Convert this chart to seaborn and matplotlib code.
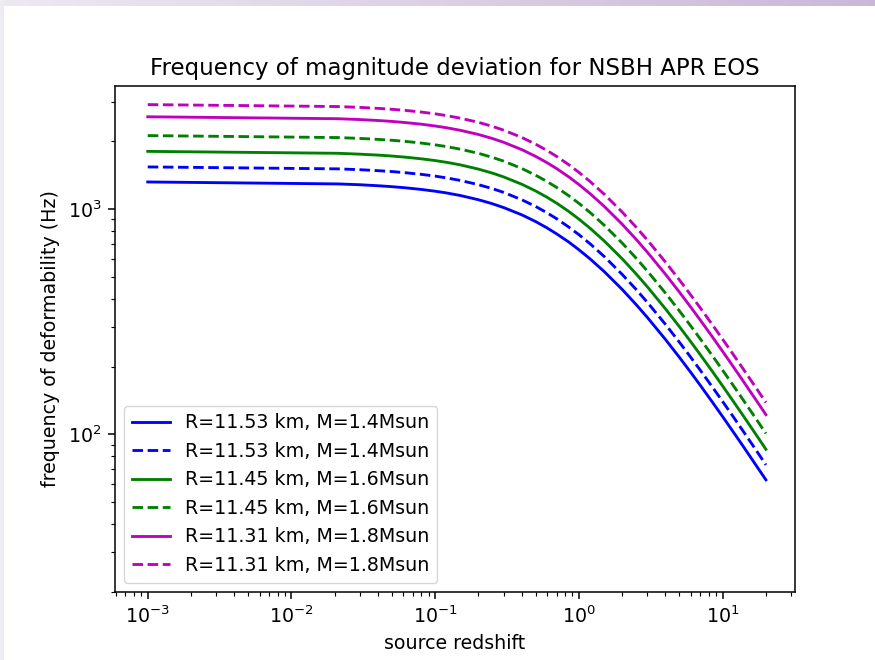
import numpy as np
import matplotlib
matplotlib.use("Agg")
import matplotlib.pyplot as plt
import seaborn as sns

# ---- data ----
redshift = [0.001, 0.021, 0.03, 0.041, 0.05, 0.061, 0.08, 0.1, 0.12, 0.15, 0.2, 0.25,
            0.3, 0.4, 0.5, 0.6, 0.7, 0.85, 1.0, 1.2, 1.5, 2.0, 2.5, 3.0, 4.0, 5.0,
            6.0, 7.0, 8.5, 10.0, 12.0, 14.0, 17.0, 20.0]

f_r1153_m14_solid = [1319, 1293, 1282, 1268, 1257, 1244, 1222, 1200, 1179, 1148, 1100, 1056,
                     1015, 943, 880, 825, 776, 714, 660, 600, 528, 440, 377, 330, 264, 220,
                     188.6, 165, 138.9, 120, 101.5, 88, 73.3, 62.9]
f_r1153_m14_dash = [1538, 1508, 1495, 1479, 1467, 1451, 1426, 1400, 1375, 1339, 1283, 1232,
                    1185, 1100, 1027, 962.5, 906, 832, 770, 700, 616, 513, 440, 385, 308, 256.7,
                    220, 192.5, 162.1, 140, 118.5, 102.7, 85.6, 73.3]
f_r1145_m16_solid = [1803, 1768, 1752, 1734, 1719, 1701, 1671, 1641, 1612, 1570, 1504, 1444,
                     1388, 1289, 1203, 1128, 1062, 976, 902.5, 820.5, 722, 601.7, 515.7, 451.3,
                     361, 300.8, 257.9, 225.6, 190, 164.1, 138.8, 120.3, 100.3, 85.95]
f_r1145_m16_dash = [2118, 2076, 2058, 2036, 2019, 1998, 1963, 1927, 1893, 1843, 1767, 1696,
                    1631, 1514, 1413, 1325, 1247, 1146, 1060, 963.6, 848, 706.7, 605.7, 530,
                    424, 353.3, 302.9, 265, 223.2, 192.7, 163.1, 141.3, 117.8, 101]
f_r1131_m18_solid = [2567, 2517, 2495, 2469, 2448, 2422, 2380, 2336, 2295, 2235, 2142, 2056,
                     1977, 1836, 1713, 1606, 1512, 1389, 1285, 1168.2, 1028, 856.7, 734.3,
                     642.5, 514, 428.3, 367.1, 321.3, 270.5, 233.6, 197.7, 171.3, 142.8, 122.4]
f_r1131_m18_dash = [2907, 2850, 2825, 2795, 2771, 2743, 2694, 2645, 2598, 2530, 2425, 2328,
                    2238, 2079, 1940, 1819, 1712, 1573, 1455, 1322.7, 1164, 970, 831.4, 727.5,
                    582, 485, 415.7, 363.8, 306.3, 264.5, 223.8, 194, 161.7, 138.6]

labels = ["R=11.53 km, M=1.4Msun", "R=11.53 km, M=1.4Msun",
          "R=11.45 km, M=1.6Msun", "R=11.45 km, M=1.6Msun",
          "R=11.31 km, M=1.8Msun", "R=11.31 km, M=1.8Msun"]
series = [f_r1153_m14_solid, f_r1153_m14_dash, f_r1145_m16_solid,
          f_r1145_m16_dash, f_r1131_m18_solid, f_r1131_m18_dash]
colors = ["b", "b", "g", "g", "m", "m"]
styles = ["-", "--", "-", "--", "-", "--"]

title = "Frequency of magnitude deviation for NSBH APR EOS"
xlabel = "source redshift"
ylabel = "frequency of deformability (Hz)"

# ---- figure ----
S = 1.37
plt.rcParams["font.family"] = ["DejaVu Sans"]
fig = plt.figure(figsize=(8.75, 6.6), dpi=100)
fig.patch.set_facecolor("white")

# lavender window frame strips (decoration)
bg = fig.add_axes([0, 0, 1, 1], zorder=-10)
bg.set_axis_off()
H, W = 660, 875
img = np.ones((H, W, 3))
c0 = np.array([0.93, 0.915, 0.948])
c1 = np.array([0.79, 0.72, 0.845])
t = np.linspace(0, 1, W)[None, :, None]
img[:6] = c0 + (c1 - c0) * t
img[:, :4] = np.array([0.935, 0.925, 0.955])
bg.imshow(img, aspect="auto", interpolation="nearest")

ax = fig.add_axes([0.1314, 0.103, 0.7771, 0.7667])
for vals, c, ls, lab in zip(series, colors, styles, labels):
    sns.lineplot(x=redshift, y=vals, ax=ax, color=c, linestyle=ls,
                 linewidth=1.5 * S, label=lab, legend=False)

ax.set_xscale("log")
ax.set_yscale("log")
ax.set_xlim(10 ** -3.228, 10 ** 1.503)
ax.set_ylim(20, 10 ** 3.546)

ax.set_title(title, fontsize=12 * S, pad=6 * S)
ax.set_xlabel(xlabel, fontsize=10 * S, labelpad=4 * S)
ax.set_ylabel(ylabel, fontsize=10 * S, labelpad=4 * S)
ax.tick_params(which="major", labelsize=10 * S, length=3.5 * S, width=0.8 * S, pad=3.5 * S)
ax.tick_params(which="minor", length=2 * S, width=0.6 * S)
for sp in ax.spines.values():
    sp.set_linewidth(0.8 * S)

ax.legend(loc="lower left", fontsize=10 * S, handlelength=2.0, borderaxespad=0.5)

fig.savefig("out.png", dpi=100)
